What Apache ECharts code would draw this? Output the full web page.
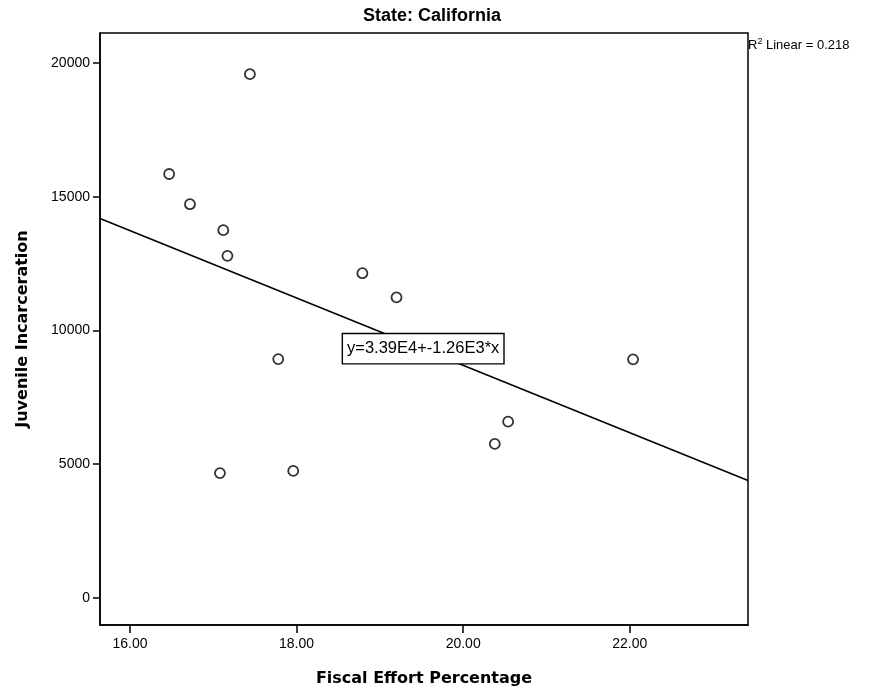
<!DOCTYPE html>
<html>
<head>
<meta charset="utf-8">
<script src="https://cdn.jsdelivr.net/npm/echarts@6/dist/echarts.min.js"></script>
<style>html,body{margin:0;padding:0;background:#fff}#c{width:872px;height:696px}</style>
</head>
<body>
<div id="c"></div>
<script>
// Data
const fiscalEffort = [16.47, 16.72, 17.12, 17.17, 17.44, 17.78, 17.08, 17.96, 18.79, 19.20, 20.38, 20.54, 22.04];
const juvenileIncarceration = [15850, 14720, 13750, 12790, 19580, 8930, 4670, 4750, 12140, 11240, 5760, 6590, 8920];
const fitLineX = [15.64, 23.42];
const fitLineY = [14190, 4390];
const equationPos = [19.52, 9320];
const equationText = 'y=3.39E4+-1.26E3*x';
const xTicks = [16, 18, 20, 22];
const yTicks = [0, 5000, 10000, 15000, 20000];
const chartTitle = 'State: California';
const xName = 'Fiscal Effort Percentage';
const yName = 'Juvenile Incarceration';

const points = fiscalEffort.map((x, i) => [x, juvenileIncarceration[i]]);
const fitLine = fitLineX.map((x, i) => [x, fitLineY[i]]);

const chart = echarts.init(document.getElementById('c'), null, {renderer: 'canvas'});
const font = 'Liberation Sans, Arial, sans-serif';
const nameFont = 'DejaVu Sans, sans-serif';
chart.setOption({
  animation: false,
  backgroundColor: '#fff',
  title: {
    text: chartTitle, left: 427, top: 2, textAlign: 'center',
    textStyle: {fontFamily: font, fontSize: 18, fontWeight: 'bold', color: '#000'}
  },
  grid: {left: 100, top: 33, right: 124, bottom: 71, show: true, borderColor: '#000', borderWidth: 1.5, backgroundColor: '#fff'},
  xAxis: {
    type: 'value', min: 15.64, max: 23.42,
    name: xName, nameLocation: 'middle', nameGap: 46,
    nameTextStyle: {fontFamily: nameFont, fontSize: 16, fontWeight: 'bold', color: '#000'},
    axisLine: {show: true, onZero: false, lineStyle: {color: '#000', width: 1.5}},
    axisTick: {show: true, customValues: xTicks, length: 8, lineStyle: {color: '#000', width: 1.5}},
    axisLabel: {customValues: xTicks, formatter: v => v.toFixed(2), fontFamily: font, fontSize: 14, color: '#000', margin: 12},
    splitLine: {show: false}
  },
  yAxis: {
    type: 'value', min: -1010, max: 21120,
    name: yName, nameLocation: 'middle', nameGap: 69, nameRotate: 90,
    nameTextStyle: {fontFamily: nameFont, fontSize: 16, fontWeight: 'bold', color: '#000'},
    axisLine: {show: true, onZero: false, lineStyle: {color: '#000', width: 1.5}},
    axisTick: {show: true, customValues: yTicks, length: 7, lineStyle: {color: '#000', width: 1.5}},
    axisLabel: {customValues: yTicks, formatter: v => String(v), fontFamily: font, fontSize: 14, color: '#000', margin: 10},
    splitLine: {show: false}
  },
  series: [
    {
      type: 'line', data: fitLine, symbol: 'none', z: 2, silent: true,
      lineStyle: {color: '#000', width: 1.6}
    },
    {
      type: 'scatter', data: points, symbol: 'circle', symbolSize: 10, z: 3, silent: true,
      itemStyle: {color: '#fff', borderColor: '#000', borderWidth: 1.8}
    }
  ]
});

const eqPx = chart.convertToPixel({gridIndex: 0}, equationPos);
chart.setOption({
  graphic: [
    {
      type: 'text', left: 748, top: 37, z: 100,
      style: {
        text: '{a|R}{b|2}{a| Linear = 0.218}',
        rich: {
          a: {fontFamily: font, fontSize: 13, fill: '#000', lineHeight: 16},
          b: {fontFamily: font, fontSize: 9, fill: '#000', padding: [0, 0, 8, 0], lineHeight: 16}
        }
      }
    },
    {
      type: 'text', x: eqPx[0], y: eqPx[1], z: 100,
      style: {
        text: equationText, align: 'center', verticalAlign: 'middle',
        fontFamily: font, fontSize: 16.5, fill: '#000',
        backgroundColor: '#fff', borderColor: '#000', borderWidth: 1.4,
        padding: [6, 4, 6, 4]
      }
    }
  ]
});
</script>
</body>
</html>
